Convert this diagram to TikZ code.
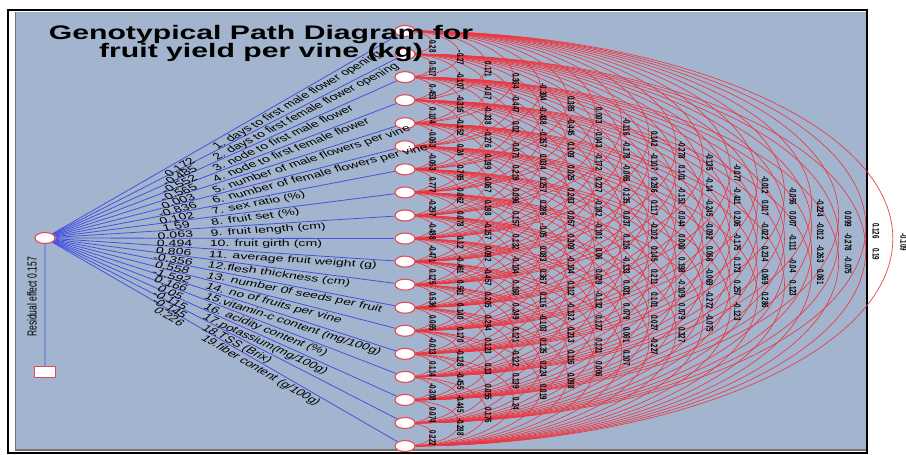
\documentclass[tikz,border=0pt]{standalone}
\usepackage{fontspec}
\setmainfont{Liberation Sans}
\usetikzlibrary{shapes.geometric,calc}
\pgfdeclarelayer{bottom}
\pgfdeclarelayer{lines}
\pgfsetlayers{bottom,lines,main}
\definecolor{panel}{RGB}{163,181,206}
\definecolor{pathblue}{RGB}{70,80,225}
\definecolor{arcred}{RGB}{235,55,65}
\definecolor{noderim}{RGB}{228,75,85}
\newcommand\mkpathlabel[3]{%
  \pgfmathsetmacro\ang{atan((207-23.06*(#1-1))/233.77)}%
  \node[blab, anchor=north, rotate=\ang] (n#1) at ($(y.center)!0.36!(t#1.center)$) {#2};%
  \node[blab, anchor=north west, rotate=\ang] (m#1) at ($(y.center)!0.45!(t#1.center)$) {#3};%
}
\begin{document}
\begin{tikzpicture}[x=1pt,y=1pt,
  trait/.style={ellipse, draw=noderim, fill=white, line width=1.1pt, minimum width=13pt, minimum height=11pt, inner sep=0pt, transform shape},
  resbox/.style={rectangle, draw=noderim, fill=white, line width=1.1pt, minimum width=14pt, minimum height=10.5pt, inner sep=0pt, transform shape},
  pathline/.style={draw=pathblue, line width=0.8pt},
  corrarc/.style={draw=arcred, line width=0.65pt},
  arclab/.style={font=\bfseries\fontsize{6.2}{7}\selectfont, rotate=-90, inner sep=0pt, transform shape, text=black},
  blab/.style={font=\fontsize{9.2}{10}\selectfont, inner sep=1.6pt, transform shape},
  titletext/.style={font=\bfseries\fontsize{19.6}{20}\selectfont, inner sep=0pt, transform shape},
  restext/.style={font=\fontsize{8.5}{9}\selectfont, inner sep=0pt, rotate=90, transform shape},
]
\useasboundingbox (0,0) rectangle (906,-455);
\begin{pgfonlayer}{bottom}
\fill[white] (0,0) rectangle (906,-455);
\fill[panel] (15,-12) rectangle (866,-451);
\draw[black!55, line width=1.2pt] (15.6,-12) -- (15.6,-450) -- (866,-450);
\draw[black, line width=2pt] (8,-10) rectangle (867,-453);
\end{pgfonlayer}
\begin{scope}[x=0.649351pt, xscale=1.54]
  % trait nodes
  \foreach \i in {1,...,19} {
    \node[trait] (t\i) at (405, {-31-23.06*(\i-1)}) {};
  }
  \node[trait] (y) at (45,-238) {};
  \node[resbox] (r) at (45,-372) {};
  % connectors
  \begin{pgfonlayer}{lines}
    \foreach \i in {1,...,19} { \draw[pathline] (y) -- (t\i); }
    \draw[pathline] (y) -- (r);
    \foreach \i in {1,...,18} {
      \pgfmathtruncatemacro\ip{\i+1}
      \foreach \j in {\ip,...,19} {
        \pgfmathtruncatemacro\k{\j-\i}
        \draw[corrarc] (t\i.center) arc[start angle=90, end angle=-90, x radius={27.1*\k}, y radius={11.53*\k}];
      }
    }
  \end{pgfonlayer}
  % correlation labels
  \foreach \k/\vals in {
    1/{0.28,0.517,0.453,0.104,-0.063,-0.063,0.777,-0.297,-0.488,-0.471,0.125,0.536,0.065,-0.013,0.114,-0.308,0.074,0.222},
    2/{-0.27,-0.107,-0.316,-0.152,0.24,0.795,0.062,0.078,0.12,-0.461,0.561,0.140,0.170,-0.128,-0.455,-0.445,-0.288},
    3/{0.171,-0.07,-0.338,-0.276,0.199,0.067,0.198,-0.157,0.092,-0.457,0.205,0.294,0.123,0.13,0.055,0.176},
    4/{0.364,-0.447,0.02,-0.071,0.219,0.096,0.157,0.132,-0.104,0.168,0.249,0.121,-0.122,0.139,0.24},
    5/{-0.304,-0.488,-0.357,0.034,0.257,0.286,-0.05,0.083,0.367,0.116,-0.103,0.135,0.224,0.019},
    6/{0.385,-0.445,0.109,0.025,0.283,0.057,0.309,-0.104,0.112,-0.132,0.213,0.116,0.098},
    7/{0.003,-0.043,-0.172,0.227,-0.182,-0.101,0.06,0.029,-0.132,0.127,0.121,0.006},
    8/{-0.116,-0.178,-0.065,0.135,0.037,0.116,-0.133,0.031,0.079,0.061,0.107},
    9/{0.142,-0.107,0.286,0.117,-0.102,0.145,0.211,0.101,0.027,-0.227},
    10/{-0.278,0.101,-0.151,0.044,0.006,0.198,-0.109,0.079,0.327},
    11/{-0.135,-0.14,-0.245,-0.092,0.066,-0.069,-0.272,-0.075},
    12/{-0.077,-0.411,0.206,-0.175,0.173,0.257,-0.123},
    13/{-0.012,0.017,-0.022,0.234,0.069,0.286},
    14/{-0.056,0.007,-0.111,-0.04,0.123},
    15/{-0.224,-0.012,-0.263,0.061},
    16/{0.099,-0.278,-0.075},
    17/{0.126,0.19},
    18/{-0.109}} {
    \foreach \v [count=\i] in \vals {
      \node[arclab] (c\k-\i) at ({405+27.7*\k}, {-35-23.06*(\i-1)-11.53*\k}) {\v};
    }
  }
  % path labels
  \mkpathlabel{1}{0.172}{1. days to first male flower opening}
  \mkpathlabel{2}{-0.485}{2. days to first female flower opening}
  \mkpathlabel{3}{-0.552}{3. node to first male flower}
  \mkpathlabel{4}{-0.565}{4. node to first female flower}
  \mkpathlabel{5}{0.003}{5. number of male flowers per vine}
  \mkpathlabel{6}{-0.836}{6. number of female flowers per vine}
  \mkpathlabel{7}{0.102}{7. sex ratio (\%)}
  \mkpathlabel{8}{1.59}{8. fruit set (\%)}
  \mkpathlabel{9}{0.063}{9. fruit length (cm)}
  \mkpathlabel{10}{0.494}{10. fruit girth (cm)}
  \mkpathlabel{11}{0.806}{11. average fruit weight (g)}
  \mkpathlabel{12}{-0.356}{12.flesh thickness (cm)}
  \mkpathlabel{13}{0.558}{13. number 0f seeds per fruit}
  \mkpathlabel{14}{-1.592}{14. no of fruits per vine}
  \mkpathlabel{15}{0.166}{15.vitamin-c content (mg/100g)}
  \mkpathlabel{16}{0.05}{16. acidity content (\%)}
  \mkpathlabel{17}{-0.115}{17.potassium(mg/100g)}
  \mkpathlabel{18}{-0.145}{18.TSS (Brix)}
  \mkpathlabel{19}{0.226}{19.fiber content (g/100g)}
  \node[restext] (res) at (32,-297) {Residual effect 0.157};
  % title
  \node[titletext, anchor=base] (title1) at (261,-39) {Genotypical Path Diagram for};
  \node[titletext, anchor=base] (title2) at (261,-57) {fruit yield per vine (kg)};
\end{scope}
\end{tikzpicture}
\end{document}
